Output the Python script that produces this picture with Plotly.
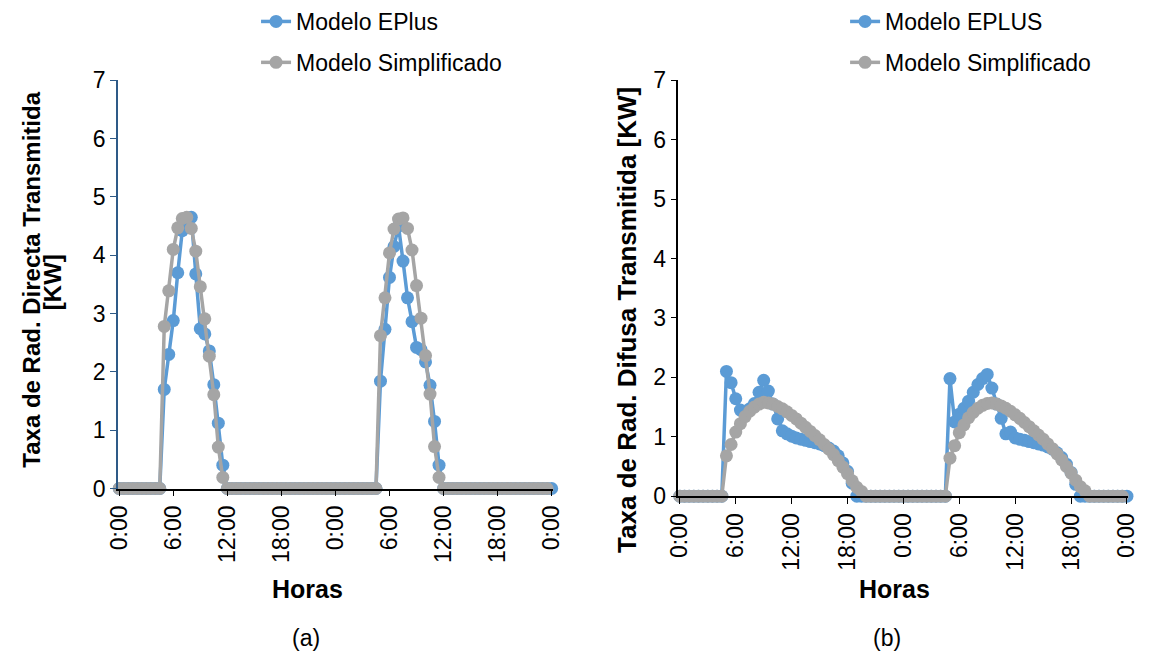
import plotly.graph_objects as go

W, H = 1156, 661

# half-hour time steps over two days (hours)
hours = [i * 0.5 for i in range(97)]
tick_hours = [0, 6, 12, 18, 24, 30, 36, 42, 48]
tick_labels = ["0:00", "6:00", "12:00", "18:00", "0:00", "6:00", "12:00", "18:00", "0:00"]

# (a) Direct transmitted radiation [KW]
direct_eplus = (
    [0] * 10 + [1.70, 2.30, 2.88, 3.70, 4.42, 4.55, 4.65, 3.68, 2.74, 2.65, 2.36, 1.78, 1.12, 0.40] + [0] * 24
    + [0] * 10 + [1.84, 2.73, 3.62, 4.15, 4.50, 3.90, 3.27, 2.86, 2.42, 2.38, 2.17, 1.77, 1.15, 0.40] + [0] * 25
)
direct_simpl = (
    [0] * 10 + [2.78, 3.39, 4.10, 4.47, 4.63, 4.65, 4.46, 4.07, 3.46, 2.91, 2.27, 1.61, 0.71, 0.19] + [0] * 24
    + [0] * 10 + [2.62, 3.27, 4.04, 4.45, 4.62, 4.64, 4.46, 4.09, 3.48, 2.92, 2.28, 1.62, 0.72, 0.19] + [0] * 24
)

# (b) Diffuse transmitted radiation [KW]
diffuse_eplus = (
    [0] * 10
    + [2.10, 1.91, 1.64, 1.45, 1.42, 1.47, 1.56, 1.75, 1.95, 1.77, 1.55, 1.30, 1.10, 1.05,
       1.01, 0.98, 0.96, 0.94, 0.92, 0.90, 0.88, 0.85, 0.81, 0.76, 0.68, 0.56, 0.42, 0.22]
    + [0] * 10
    + [0] * 10
    + [1.98, 1.25, 1.38, 1.48, 1.60, 1.75, 1.88, 1.98, 2.05, 1.82, 1.55, 1.31, 1.05, 1.08,
       0.98, 0.96, 0.94, 0.92, 0.90, 0.88, 0.86, 0.83, 0.79, 0.73, 0.65, 0.54, 0.40, 0.20]
    + [0] * 11
)
diffuse_simpl = (
    [0] * 10
    + [0.68, 0.87, 1.08, 1.22, 1.34, 1.43, 1.50, 1.55, 1.58, 1.57, 1.55, 1.51, 1.47, 1.42,
       1.36, 1.30, 1.23, 1.16, 1.09, 1.02, 0.95, 0.87, 0.79, 0.70, 0.60, 0.49, 0.38, 0.26,
       0.15, 0.08]
    + [0] * 8
    + [0] * 10
    + [0.64, 0.85, 1.07, 1.20, 1.32, 1.41, 1.48, 1.53, 1.56, 1.57, 1.55, 1.52, 1.48, 1.43,
       1.37, 1.31, 1.24, 1.17, 1.10, 1.03, 0.96, 0.88, 0.80, 0.71, 0.61, 0.50, 0.39, 0.27,
       0.16, 0.09]
    + [0] * 8
)

BLUE = "#5B9BD5"
GRAY = "#A5A5A5"
FONT = "Liberation Sans"

fig = go.Figure()


def add(x, y, name, color, xa, ya, leg, grp):
    fig.add_trace(go.Scatter(
        x=x, y=y, name=name, mode="lines+markers",
        line=dict(color=color, width=3.5),
        marker=dict(color=color, size=13),
        xaxis=xa, yaxis=ya, legend=leg, legendgroup=grp,
        cliponaxis=False,
    ))


add(hours, direct_eplus, "Modelo EPlus", BLUE, "x", "y", "legend", "a1")
add(hours[:96], direct_simpl, "Modelo Simplificado", GRAY, "x", "y", "legend", "a2")
add(hours, diffuse_eplus, "Modelo EPLUS", BLUE, "x2", "y2", "legend2", "b1")
add(hours[:96], diffuse_simpl, "Modelo Simplificado", GRAY, "x2", "y2", "legend2", "b2")


def px(x):
    return x / W


def py(y):
    return 1 - y / H


xcommon = dict(
    range=[-0.15, 48.15], tickmode="array", tickvals=tick_hours, ticktext=tick_labels,
    tickangle=-90, ticks="outside", ticklen=6, tickcolor="black",
    showline=True, linecolor="black", linewidth=1.5, showgrid=False, zeroline=False,
    tickfont=dict(size=23, color="black", family=FONT),
)
ycommon = dict(
    range=[0, 7], dtick=1, ticks="outside", ticklen=6,
    showline=True, linewidth=1.5, showgrid=False, zeroline=False,
    tickfont=dict(size=23, color="black", family=FONT),
)

legcommon = dict(
    font=dict(size=23, color="black", family=FONT), bgcolor="rgba(0,0,0,0)",
    orientation="v", xanchor="left", yanchor="top", tracegroupgap=8,
    itemwidth=30,
)

fig.update_layout(
    width=W, height=H, autosize=False,
    margin=dict(l=0, r=0, t=0, b=0),
    paper_bgcolor="white", plot_bgcolor="white",
    font=dict(family=FONT, color="black"),
    xaxis=dict(domain=[px(108), px(552)], anchor="y", **xcommon),
    yaxis=dict(domain=[py(495), py(70)], anchor="x", linecolor="#2E5A87", tickcolor="#2E5A87", **ycommon),
    xaxis2=dict(domain=[px(680), px(1139)], anchor="y2", **xcommon),
    yaxis2=dict(domain=[py(503), py(70)], anchor="x2", linecolor="black", tickcolor="black", **ycommon),
    legend=dict(x=px(249), y=py(-14), **legcommon),
    legend2=dict(x=px(850), y=py(-14), **legcommon),
    showlegend=True,
)

ann = [
    dict(text="<b>Taxa de Rad. Directa Transmitida</b>", x=px(19), y=py(278),
         textangle=-90, font=dict(size=24)),
    dict(text="<b>[KW]</b>", x=px(42), y=py(280),
         textangle=-90, font=dict(size=24)),
    dict(text="<b>Taxa de Rad. Difusa Transmitida [KW]</b>", x=px(628), y=py(320),
         textangle=-90, font=dict(size=26)),
    dict(text="<b>Horas</b>", x=px(301), y=py(600), font=dict(size=25)),
    dict(text="<b>Horas</b>", x=px(900), y=py(600), font=dict(size=25)),
    dict(text="(a)", x=px(300), y=py(651), font=dict(size=23)),
    dict(text="(b)", x=px(893), y=py(651), font=dict(size=23)),
]
for a in ann:
    a.update(xref="paper", yref="paper", showarrow=False, xanchor="center", yanchor="middle")
    a["font"].update(family=FONT, color="black")
    fig.add_annotation(**a)

fig.write_html("out.html")
